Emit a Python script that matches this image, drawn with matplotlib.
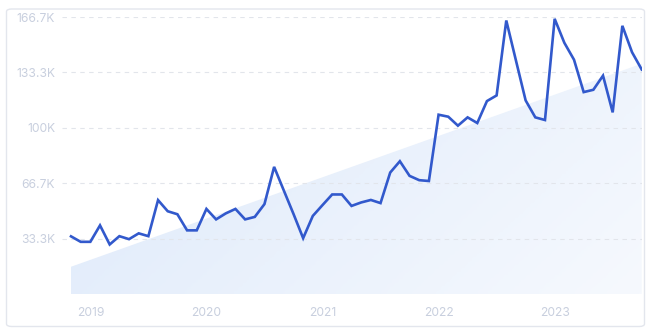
import matplotlib
matplotlib.use("Agg")
import matplotlib.pyplot as plt
import matplotlib.colors as mcolors
from matplotlib.patches import Polygon, FancyBboxPatch
import numpy as np

# monthly values, Nov 2018 .. Oct 2023 (thousands)
values = [34.7, 31.4, 31.4, 41.3, 29.8, 34.8, 33.0, 36.5, 34.8, 56.5,
          49.8, 48.0, 38.3, 38.3, 51.2, 44.9, 48.5, 51.2, 44.9, 46.4,
          54.1, 76.5, 62.3, 48.2, 33.6, 47.0, 53.5, 59.9, 59.9, 53.0,
          55.1, 56.6, 54.7, 73.1, 79.9, 71.1, 68.5, 68.0, 107.9, 106.7,
          101.3, 106.3, 102.9, 116.1, 119.5, 164.6, 140.5, 116.5, 106.3, 104.7,
          165.6, 151.2, 141.0, 121.5, 122.9, 131.4, 109.3, 161.4, 145.5, 135.1]
trend = [16.4, 138.6]  # start / end of the shaded trend area

year_labels = ["2019", "2020", "2021", "2022", "2023"]
year_pos = [2, 14, 26, 38, 50]
y_ticks = [33.3, 66.7, 100, 133.3, 166.7]
y_labels = ["33.3K", "66.7K", "100K", "133.3K", "166.7K"]

plt.rcParams['font.family'] = ['Inter', 'DejaVu Sans']

W, H = 653, 336
fig = plt.figure(figsize=(W / 100, H / 100), dpi=100)

# outer card
card = FancyBboxPatch((6.5 / W, (H - 326.5) / H), (644.5 - 6.5) / W, (326.5 - 9) / H,
                      boxstyle="round,pad=0,rounding_size=0.008",
                      transform=fig.transFigure, facecolor="white",
                      edgecolor="#e3e6ed", linewidth=1.0, zorder=-10)
fig.patches.append(card)

ax = fig.add_axes([62 / W, (H - 294) / H, (642 - 62) / W, (294 - 17) / H])
ax.set_facecolor("none")
x = np.arange(len(values))
ax.set_xlim(-0.93, 59.03)
ax.set_ylim(0, 166.7)

for s in ax.spines.values():
    s.set_visible(False)

for yv in y_ticks:
    ax.axhline(yv, color="#e2e5eb", lw=0.8, ls=(0, (4, 4)), zorder=1)

# gradient fill under trend line (darker top-left, fading to bottom-right)
poly = Polygon([(0, 0), (0, trend[0]), (x[-1], trend[1]), (x[-1], 0)],
               closed=True, facecolor="none", edgecolor="none")
ax.add_patch(poly)
cmap = mcolors.LinearSegmentedColormap.from_list("fill", ["#dde9fa", "#f6f9fe"])
gx, gy = np.meshgrid(np.linspace(0, 1, 256), np.linspace(0, 1, 64))
grad = 0.7 * gx + 0.3 * gy
im = ax.imshow(grad, cmap=cmap, aspect="auto", origin="upper",
               extent=[0, x[-1], 0, trend[1]], zorder=0, vmin=0, vmax=1)
im.set_clip_path(poly)

ax.plot(x, values, color="#3259cc", lw=1.9, solid_joinstyle="miter", zorder=3)

ax.set_xticks(year_pos, year_labels)
ax.set_yticks(y_ticks, y_labels)
ax.tick_params(length=0, labelcolor="#c8cfde", labelsize=8.7)
ax.tick_params(axis="x", pad=9)
ax.tick_params(axis="y", pad=5)

fig.savefig("out.png", dpi=100)
